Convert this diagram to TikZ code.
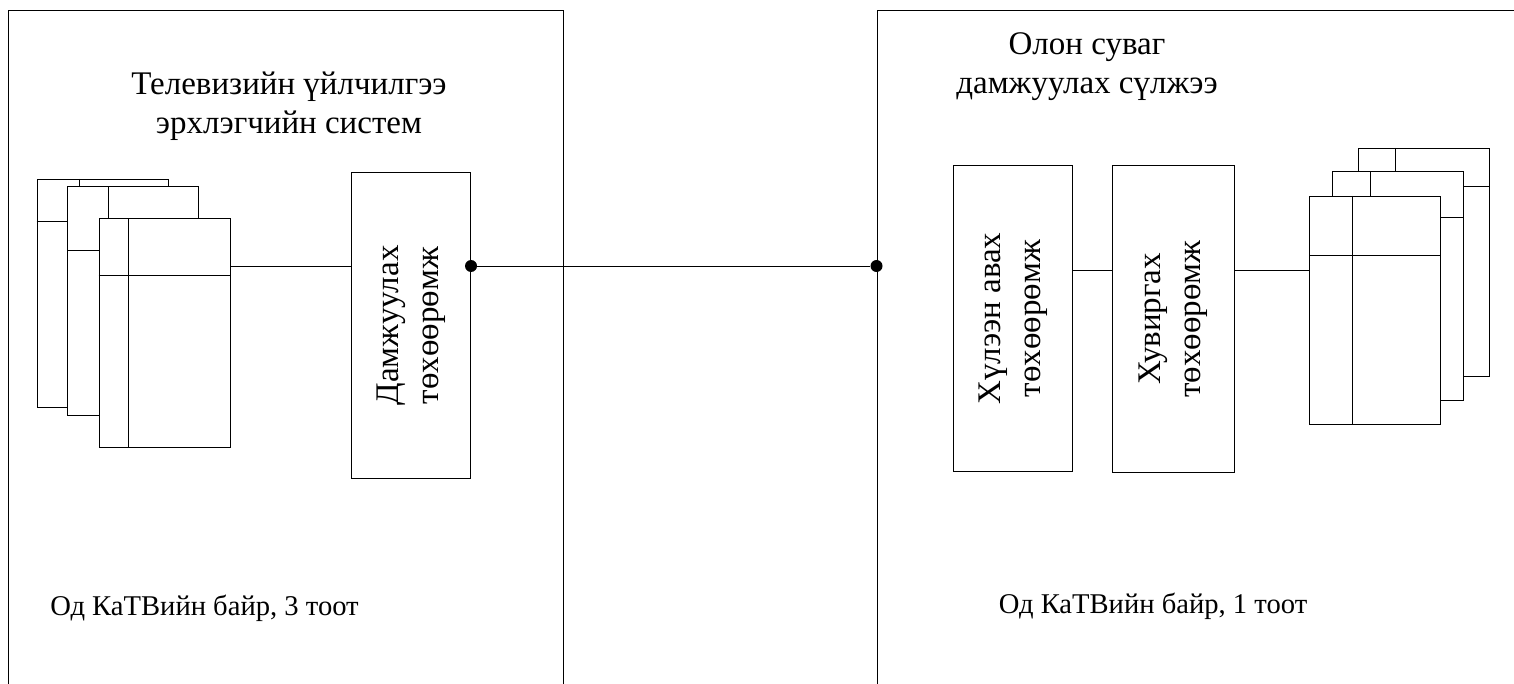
\documentclass[tikz,border=0pt]{standalone}
\usepackage{fontspec}
\setmainfont{Liberation Serif}
\usetikzlibrary{positioning, calc}
\tikzset{
  zone/.style={draw, line width=0.5pt, inner sep=0pt},
  sheet/.style={draw, line width=0.5pt, fill=white, inner sep=0pt,
                minimum width=65.5pt, minimum height=114pt},
  unit/.style={draw, line width=0.5pt, inner sep=0pt,
               minimum width=59.5pt, minimum height=153pt},
  vlabel/.style={rotate=90, align=center, inner sep=0pt,
                 font=\fontsize{16.5}{20}\selectfont},
  caption/.style={align=center, inner sep=0pt,
                  font=\fontsize{16.5}{19.5}\selectfont},
  addr/.style={inner sep=0pt, font=\fontsize{14.3}{17}\selectfont},
  wire/.style={line width=0.5pt},
  jdot/.style={circle, fill=black, inner sep=0pt, minimum size=6pt},
}

\begin{document}
\begin{tikzpicture}[x=0.5pt, y=-0.5pt]
  \useasboundingbox (0,0) rectangle (1514,684);

  %% Two sites
  \node[zone, minimum width=277.5pt, minimum height=344.5pt] (lzone) at (285.5,355.5) {};
  \node[zone, minimum width=326.5pt, minimum height=344.5pt] (rzone) at (1203.5,355.5) {};
  \node[caption] (ltitle) at (289,106) {Телевизийн үйлчилгээ\\эрхлэгчийн систем};
  \node[caption] (rtitle) at (1087,67) {Олон суваг\\дамжуулах сүлжээ};
  \node[addr] (laddr) at (204.5,608) {Од КаТВийн байр, 3 тоот};
  \node[addr] (raddr) at (1153,606) {Од КаТВийн байр, 1 тоот};

  %% Program sheets (left)
  \foreach \n/\x/\y/\v/\h in {lb/102.5/293.5/43/43, lm/133/301/41/64, lf/164.5/333/30/57}{
    \node[sheet] (\n) at (\x,\y) {};
    \draw[wire] ($(\n.north west)+(\v,0)$) -- ($(\n.south west)+(\v,0)$);
    \draw[wire] ($(\n.north west)+(0,\h)$) -- ($(\n.north east)+(0,\h)$);
  }

  %% Program sheets (right)
  \foreach \n/\x/\y/\v/\h in {rb/1424/262.5/37/39, rm/1398/286/38/46, rf/1375/310.5/43/60}{
    \node[sheet] (\n) at (\x,\y) {};
    \draw[wire] ($(\n.north west)+(\v,0)$) -- ($(\n.south west)+(\v,0)$);
    \draw[wire] ($(\n.north west)+(0,\h)$) -- ($(\n.north east)+(0,\h)$);
  }

  %% Devices
  \node[unit] (tx) at (411,325.5) {};
  \node[vlabel] at (tx) {Дамжуулах\\төхөөрөмж};
  \node[unit] (rx) at (1013,318.5) {};
  \node[vlabel] at (rx) {Хүлээн авах\\төхөөрөмж};
  \node[unit, minimum width=61pt] (conv) at (1173,319) {};
  \node[vlabel] at (conv) {Хувиргах\\төхөөрөмж};

  %% Links
  \coordinate (lbus) at (0,266);
  \coordinate (rbus) at (0,270);
  \draw[wire] (lf.east |- lbus) -- (tx.west |- lbus);
  \node[jdot] (d1) at (tx.east |- lbus) {};
  \node[jdot] (d2) at (rzone.west |- lbus) {};
  \draw[wire] (d1) -- (d2);
  \draw[wire] (rx.east |- rbus) -- (conv.west |- rbus);
  \draw[wire] (conv.east |- rbus) -- (rf.west |- rbus);
\end{tikzpicture}
\end{document}
